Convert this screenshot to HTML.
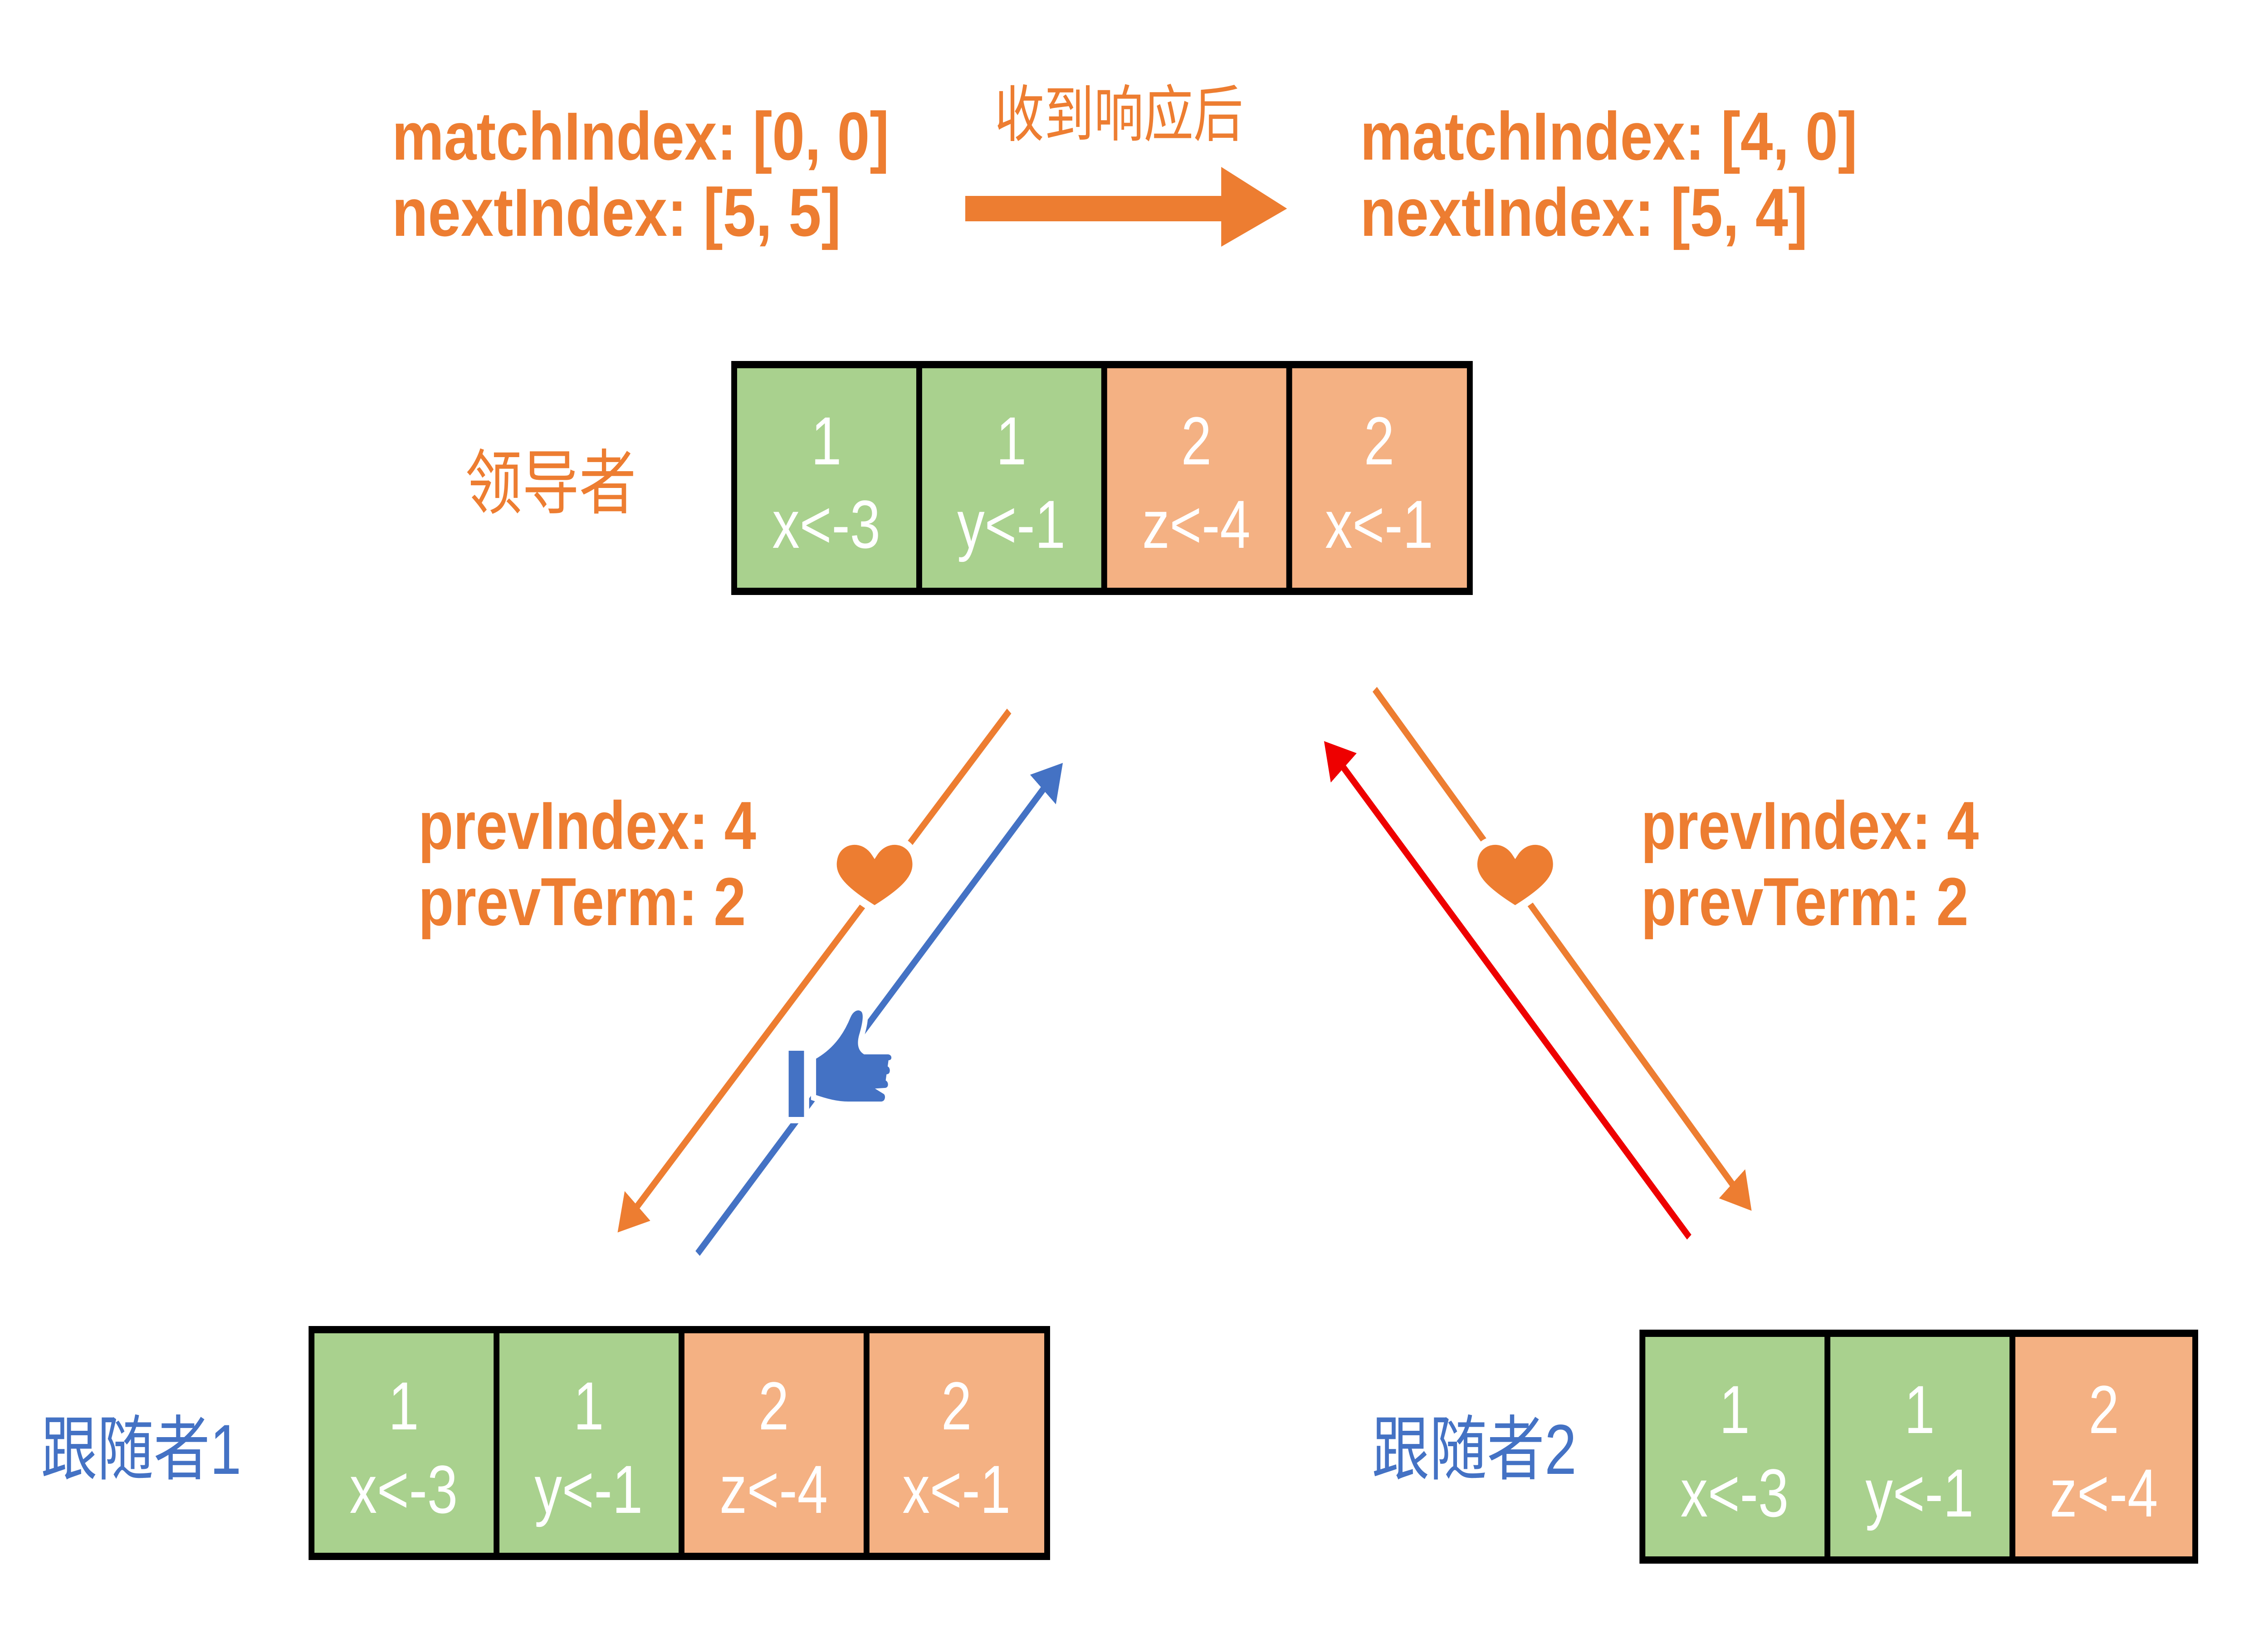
<!DOCTYPE html>
<html><head><meta charset="utf-8"><style>html,body{margin:0;padding:0;background:#fff;width:100%;height:100%;overflow:hidden}svg{display:block;width:100vw;height:100vh}</style></head><body>
<svg xmlns="http://www.w3.org/2000/svg" viewBox="0 0 6203 3634" preserveAspectRatio="none">
<rect width="6203" height="3634" fill="#fff"/>
<defs>
<marker id="ao" markerWidth="6" markerHeight="6" refX="4" refY="3" orient="auto" markerUnits="strokeWidth"><path d="M0,0 L5,3 L0,6 Z" fill="#ED7D31"/></marker>
<marker id="ab" markerWidth="6" markerHeight="6" refX="4" refY="3" orient="auto" markerUnits="strokeWidth"><path d="M0,0 L5,3 L0,6 Z" fill="#4472C4"/></marker>
<marker id="ar" markerWidth="6" markerHeight="6" refX="4" refY="3" orient="auto" markerUnits="strokeWidth"><path d="M0,0 L5,3 L0,6 Z" fill="#EE0000"/></marker>
</defs>
<g font-family="'Liberation Sans', sans-serif" font-weight="bold" fill="#ED7D31" font-size="150">
<text x="1072" y="352" textLength="1360" lengthAdjust="spacingAndGlyphs">matchIndex: [0, 0]</text>
<text x="1072" y="520" textLength="1228" lengthAdjust="spacingAndGlyphs">nextIndex: [5, 5]</text>
<text x="3720" y="352" textLength="1360" lengthAdjust="spacingAndGlyphs">matchIndex: [4, 0]</text>
<text x="3720" y="520" textLength="1224" lengthAdjust="spacingAndGlyphs">nextIndex: [5, 4]</text>
<text x="1144" y="1872" textLength="924" lengthAdjust="spacingAndGlyphs">prevIndex: 4</text>
<text x="1144" y="2040" textLength="896" lengthAdjust="spacingAndGlyphs">prevTerm: 2</text>
<text x="4488" y="1872" textLength="924" lengthAdjust="spacingAndGlyphs">prevIndex: 4</text>
<text x="4488" y="2040" textLength="896" lengthAdjust="spacingAndGlyphs">prevTerm: 2</text>
</g>
<g font-family="'Liberation Sans','Noto Sans CJK SC',sans-serif">
<text x="2720" y="300" font-size="136" fill="#ED7D31" textLength="680" lengthAdjust="spacingAndGlyphs">收到响应后</text>
<text x="1272" y="1120" font-size="156" fill="#ED7D31" textLength="468" lengthAdjust="spacingAndGlyphs">领导者</text>
<text x="112" y="3250" font-size="156" fill="#4472C4" textLength="548" lengthAdjust="spacingAndGlyphs">跟随者1</text>
<text x="3752" y="3250" font-size="156" fill="#4472C4" textLength="560" lengthAdjust="spacingAndGlyphs">跟随者2</text>
</g>
<path d="M2640,432 L3340,432 L3340,368 L3520,460 L3340,544 L3340,488 L2640,488 Z" fill="#ED7D31"/>
<g font-family="'Liberation Sans',sans-serif" font-size="150" fill="#fff" text-anchor="middle">
<rect x="2000" y="796" width="2028" height="516" fill="#000"/>
<rect x="2016" y="812" width="490" height="484" fill="#A9D18E"/>
<rect x="2522" y="812" width="490" height="484" fill="#A9D18E"/>
<rect x="3028" y="812" width="490" height="484" fill="#F4B183"/>
<rect x="3534" y="812" width="478" height="484" fill="#F4B183"/>
<text x="2260" y="1024">1</text><text x="2260" y="1208">x&lt;-3</text>
<text x="2766" y="1024">1</text><text x="2766" y="1208">y&lt;-1</text>
<text x="3272" y="1024">2</text><text x="3272" y="1208">z&lt;-4</text>
<text x="3772" y="1024">2</text><text x="3772" y="1208">x&lt;-1</text>
<rect x="844" y="2924" width="2028" height="516" fill="#000"/>
<rect x="860" y="2940" width="490" height="484" fill="#A9D18E"/>
<rect x="1366" y="2940" width="490" height="484" fill="#A9D18E"/>
<rect x="1872" y="2940" width="490" height="484" fill="#F4B183"/>
<rect x="2378" y="2940" width="478" height="484" fill="#F4B183"/>
<text x="1104" y="3152">1</text><text x="1104" y="3336">x&lt;-3</text>
<text x="1610" y="3152">1</text><text x="1610" y="3336">y&lt;-1</text>
<text x="2116" y="3152">2</text><text x="2116" y="3336">z&lt;-4</text>
<text x="2616" y="3152">2</text><text x="2616" y="3336">x&lt;-1</text>
<rect x="4484" y="2932" width="1528" height="516" fill="#000"/>
<rect x="4500" y="2948" width="490" height="484" fill="#A9D18E"/>
<rect x="5006" y="2948" width="490" height="484" fill="#A9D18E"/>
<rect x="5512" y="2948" width="484" height="484" fill="#F4B183"/>
<text x="4744" y="3160">1</text><text x="4744" y="3344">x&lt;-3</text>
<text x="5250" y="3160">1</text><text x="5250" y="3344">y&lt;-1</text>
<text x="5754" y="3160">2</text><text x="5754" y="3344">z&lt;-4</text>
</g>
<line x1="2760" y1="1568" x2="1700" y2="2706" stroke="#ED7D31" stroke-width="16" marker-end="url(#ao)"/>
<line x1="1908" y1="2764" x2="2896" y2="1694" stroke="#4472C4" stroke-width="16" marker-end="url(#ab)"/>
<line x1="4620" y1="2728" x2="3632" y2="1646" stroke="#EE0000" stroke-width="16" marker-end="url(#ar)"/>
<line x1="3760" y1="1520" x2="4780" y2="2658" stroke="#ED7D31" stroke-width="16" marker-end="url(#ao)"/>
<g stroke="#fff" stroke-width="18" fill="#ED7D31">
<path d="M2392,2006 C2300,1960 2270,1930 2282,1890 C2295,1848 2360,1840 2392,1880 C2424,1840 2489,1848 2502,1890 C2514,1930 2484,1960 2392,2006 Z"/>
<path d="M4144,2006 C4052,1960 4022,1930 4034,1890 C4047,1848 4112,1840 4144,1880 C4176,1840 4241,1848 4254,1890 C4266,1930 4236,1960 4144,2006 Z"/>
</g>
<g fill="#4472C4" stroke="#fff" stroke-width="14">
<rect x="2150" y="2310" width="56" height="160" rx="6"/>
<path d="M2225,2330 C2270,2310 2300,2280 2320,2240 C2328,2225 2345,2215 2360,2225 C2372,2235 2365,2260 2358,2280 C2352,2295 2350,2310 2365,2318 L2430,2318 C2450,2320 2450,2345 2430,2345 C2445,2350 2445,2375 2425,2376 C2440,2382 2440,2405 2420,2406 C2432,2412 2430,2435 2410,2436 L2320,2436 C2290,2436 2260,2430 2225,2420 Z"/>
</g>
</svg>
</body></html>
